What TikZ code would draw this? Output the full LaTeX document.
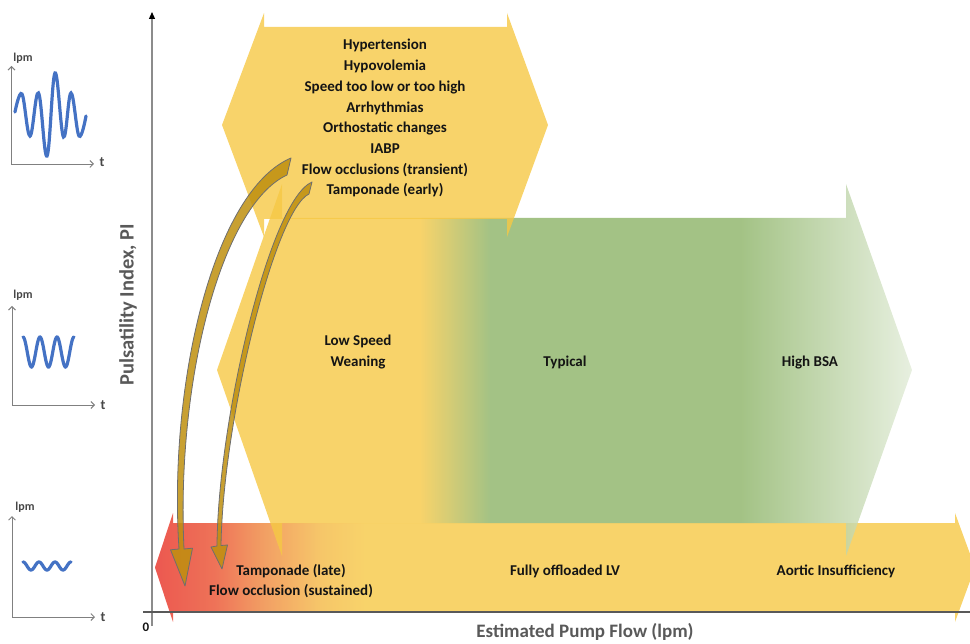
\documentclass[tikz,border=0pt]{standalone}
\usepackage{fontspec}
\setmainfont{Carlito}
\usetikzlibrary{arrows.meta}
\definecolor{ylw}{RGB}{246,200,69}
\definecolor{grn}{RGB}{140,179,102}
\definecolor{lgrn}{RGB}{226,236,216}
\definecolor{rd}{RGB}{231,46,36}
\definecolor{rdor}{RGB}{234,80,46}
\definecolor{orng}{RGB}{239,136,61}
\definecolor{lorng}{RGB}{244,184,68}
\definecolor{arw}{RGB}{190,143,14}
\definecolor{arwline}{RGB}{110,110,110}
\definecolor{wave}{RGB}{68,114,196}
\definecolor{axg}{RGB}{89,89,89}
\definecolor{txt}{RGB}{20,20,20}
\pgfdeclarehorizontalshading{midshade}{100bp}{color(0bp)=(ylw); color(39.6bp)=(ylw); color(44.64bp)=(grn); color(62.63bp)=(grn); color(75bp)=(lgrn); color(100bp)=(lgrn)}
\pgfdeclarehorizontalshading{botshade}{100bp}{color(0bp)=(rd); color(25bp)=(rd); color(28.66bp)=(rdor); color(31.7bp)=(orng); color(35.06bp)=(lorng); color(37.8bp)=(ylw); color(100bp)=(ylw)}
\begin{document}
\begin{tikzpicture}[x=1pt,y=-1pt,
  lbl/.style={font=\fontsize{15}{18}\selectfont\bfseries, text=txt, inner sep=0pt, anchor=base},
  axlbl/.style={font=\fontsize{19}{22}\selectfont\bfseries, text=axg, inner sep=0pt},
  icolbl/.style={font=\fontsize{12}{14}\selectfont\bfseries, text=axg!80!black, inner sep=0pt},
  icoaxis/.style={draw=gray, line width=0.9pt, {Straight Barb[length=3.5pt,width=7pt]}-{Straight Barb[length=3.5pt,width=7pt]}},
  wv/.style={draw=wave, line width=3.2pt, line cap=round},
  curvarrow/.style={fill=arw, fill opacity=0.85, draw=arwline, line width=0.8pt, line join=round},
  band/.style={fill opacity=0.8}
]
\useasboundingbox (0,0) rectangle (970,644);
\clip (0,0) rectangle (970,644);

% bottom band
\shade[shading=botshade, band] (155,567.5) -- (173,513) -- (173,523) -- (955,523) -- (955,513) -- (975,567.5) -- (955,622) -- (955,612) -- (173,612) -- (173,622) -- cycle;
% middle band
\shade[shading=midshade, band] (217,370) -- (282,184) -- (282,218) -- (846,218) -- (846,184) -- (912,370) -- (846,556) -- (846,523) -- (282,523) -- (282,556) -- cycle;
% top band
\fill[ylw, band] (222,125) -- (264,13) -- (264,27) -- (507,27) -- (507,13) -- (548,125) -- (507,237) -- (507,219) -- (264,219) -- (264,237) -- cycle;

% axes
\coordinate (org) at (152,612);
\coordinate (ytop) at (152,12);
\coordinate (ybot) at (152,626);
\coordinate (xl) at (143,612);
\coordinate (xr) at (972,612);
\draw[draw=gray!90, line width=1.2pt, -{Triangle[length=7pt,width=6pt,color=black]}] (ybot) -- (ytop);
\draw[draw=axg, line width=1.2pt] (xl) -- (xr);
\node[font=\fontsize{13}{15}\selectfont\bfseries, text=txt, inner sep=0pt] (zero) at (146,627) {0};
\node[axlbl, anchor=base] (xlabel) at (585,637) {Estimated Pump Flow (lpm)};
\node[axlbl, font=\fontsize{20.5}{24}\selectfont\bfseries, rotate=90] (ylabel) at (128,305) {Pulsatility Index, PI};

% curved arrows
\coordinate (a1tail) at (289,166);
\coordinate (a1tip) at (185,586);
\coordinate (a2tail) at (310,188);
\coordinate (a2tip) at (222,569);
\path[curvarrow] (291,158) .. controls (215,190) and (168,380) .. (179,549) -- (170.5,549.8) -- (a1tip) -- (192.5,548.2) -- (184,549) .. controls (176,380) and (222,205) .. (287,175) -- cycle;
\path[curvarrow] (312,182) .. controls (270,200) and (218,420) .. (217,546) -- (211,547) -- (a2tip) -- (227.5,545) -- (221,545.5) .. controls (223,420) and (275,210) .. (309,194) -- cycle;

% top texts
\node[lbl] (t1) at (385,50) {Hypertension};
\node[lbl] (t2) at (385,70.7) {Hypovolemia};
\node[lbl] (t3) at (385,91.4) {Speed too low or too high};
\node[lbl] (t4) at (385,112.1) {Arrhythmias};
\node[lbl] (t5) at (385,132.8) {Orthostatic changes};
\node[lbl] (t6) at (385,153.5) {IABP};
\node[lbl] (t7) at (385,174.2) {Flow occlusions (transient)};
\node[lbl] (t8) at (385,194.9) {Tamponade (early)};

% middle texts
\node[lbl] (m1) at (358,346) {Low Speed};
\node[lbl] (m2) at (358,367) {Weaning};
\node[lbl] (m3) at (565,367) {Typical};
\node[lbl] (m4) at (810,367) {High BSA};

% bottom texts
\node[lbl] (b1) at (291,575) {Tamponade (late)};
\node[lbl] (b2) at (291,595) {Flow occlusion (sustained)};
\node[lbl] (b3) at (565,575) {Fully offloaded LV};
\node[lbl] (b4) at (836,575) {Aortic Insufficiency};

% icon 1
\coordinate (i1top) at (11.5,66);
\coordinate (i1o) at (11.5,164);
\coordinate (i1r) at (94,164);
\draw[icoaxis] (i1top) -- (i1o) -- (i1r);
\node[icolbl] (i1y) at (23,58) {lpm};
\node[icolbl, font=\fontsize{14}{16}\selectfont\bfseries] (i1x) at (102,162) {t};
\draw[wv] plot[smooth, tension=0.65] coordinates {(15,112) (22,94) (30,136) (38.5,93) (47,156) (55,73) (63.5,137) (71,93) (79,136) (86,116)};

% icon 2
\coordinate (i2top) at (12,306);
\coordinate (i2o) at (12,405);
\coordinate (i2r) at (95,405);
\draw[icoaxis] (i2top) -- (i2o) -- (i2r);
\node[icolbl] (i2y) at (23,295) {lpm};
\node[icolbl, font=\fontsize{14}{16}\selectfont\bfseries] (i2x) at (103,405) {t};
\draw[wv] plot[domain=0:3, samples=90, smooth] ({23+17*\x},{352-15*cos(360*\x)});

% icon 3
\coordinate (i3top) at (12,516);
\coordinate (i3o) at (12,617);
\coordinate (i3r) at (95,617);
\draw[icoaxis] (i3top) -- (i3o) -- (i3r);
\node[icolbl] (i3y) at (25,507) {lpm};
\node[icolbl, font=\fontsize{14}{16}\selectfont\bfseries] (i3x) at (103,617) {t};
\draw[wv] plot[domain=0:3, samples=90, smooth] ({23+16*\x},{566-4*cos(360*\x)});
\end{tikzpicture}
\end{document}
